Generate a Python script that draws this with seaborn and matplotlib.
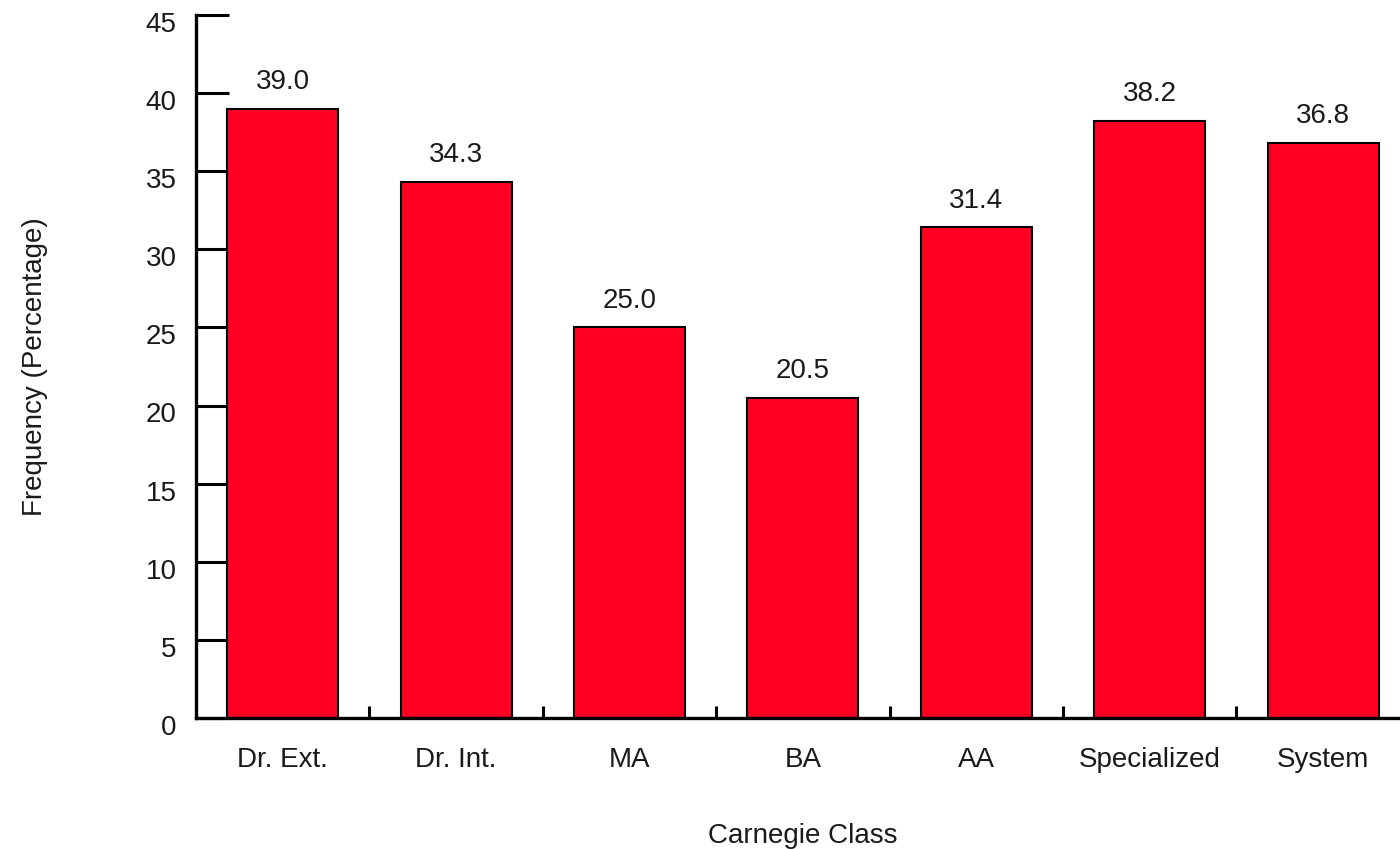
import pandas as pd
import matplotlib
matplotlib.use("Agg")
import matplotlib.pyplot as plt
import matplotlib.transforms as mtransforms
import seaborn as sns

# values
classes = ['Dr. Ext.', 'Dr. Int.', 'MA', 'BA', 'AA', 'Specialized', 'System']
freq = [39.0, 34.3, 25.0, 20.5, 31.4, 38.2, 36.8]
yticks = [0, 5, 10, 15, 20, 25, 30, 35, 40, 45]

df = pd.DataFrame({'Carnegie Class': classes, 'Frequency': freq})

sns.set_style('white')
plt.rcParams['font.family'] = ['Liberation Sans', 'DejaVu Sans']
txt_color = '#1a1a1a'
fs = 20

fig = plt.figure(figsize=(14, 8.49), dpi=100)
ax = fig.add_axes([0.14, 1 - 718 / 849, 0.867, (718 - 15) / 849])

sns.barplot(data=df, x='Carnegie Class', y='Frequency', color='#FF0022',
            edgecolor='black', linewidth=1.5, width=0.64, saturation=1, ax=ax)

# value labels on top of bars
ax.bar_label(ax.containers[0], fmt='%.1f', padding=10, fontsize=fs, color=txt_color)

ax.set_ylim(0, 45)
ax.set_xlim(-0.5, 6.5)
ax.set_yticks(yticks)
ax.tick_params(axis='y', left=True, direction='in', length=24, width=2.2,
               color='black', labelsize=fs, pad=14, labelcolor=txt_color)
# labels in the reference sit a little below their ticks
shift = mtransforms.ScaledTranslation(0, -5 / 72, fig.dpi_scale_trans)
for lab in ax.get_yticklabels():
    lab.set_transform(lab.get_transform() + shift)

# category labels, plus short ticks between categories
ax.set_xticks(range(len(classes)))
ax.set_xticklabels(classes, fontsize=fs, color=txt_color)
ax.tick_params(axis='x', which='major', bottom=True, length=0, pad=21)
ax.set_xticks([i + 0.5 for i in range(len(classes) - 1)], minor=True)
ax.tick_params(axis='x', which='minor', bottom=True, direction='in', length=9,
               width=2.2, color='black')

for side in ['top', 'right']:
    ax.spines[side].set_visible(False)
for side in ['left', 'bottom']:
    ax.spines[side].set_linewidth(2.4)
    ax.spines[side].set_color('black')

ax.set_xlabel('Carnegie Class', fontsize=fs, labelpad=36, color=txt_color)
ax.set_ylabel('Frequency (Percentage)', fontsize=fs, labelpad=70, color=txt_color)

fig.savefig('out.png', dpi=100)
